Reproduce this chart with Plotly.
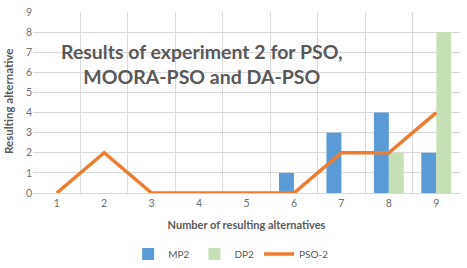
import plotly.graph_objects as go

categories = ["1", "2", "3", "4", "5", "6", "7", "8", "9"]
mp2 = [0, 0, 0, 0, 0, 1, 3, 4, 2]
dp2 = [0, 0, 0, 0, 0, 0, 0, 2, 8]
pso2 = [0, 2, 0, 0, 0, 0, 2, 2, 4]
y_ticks = [0, 1, 2, 3, 4, 5, 6, 7, 8, 9]

FONT = "Lato"
GRAY = "#595959"
TICK = "#6E6E6E"
GRID = "#D9D9D9"

fig = go.Figure()
fig.add_trace(go.Bar(x=categories, y=mp2, name="MP2", marker=dict(color="#5B9BD5", line=dict(width=0))))
fig.add_trace(go.Bar(x=categories, y=dp2, name="DP2", marker=dict(color="#C5E0B4", line=dict(width=0))))
fig.add_trace(go.Scatter(x=categories, y=pso2, name="PSO-2", mode="lines",
                         line=dict(color="#ED7D31", width=3.5)))

fig.update_layout(
    width=467, height=268,
    margin=dict(l=33, r=7, t=12, b=75),
    paper_bgcolor="white", plot_bgcolor="white",
    barmode="group", bargap=0.37, bargroupgap=0,
    font=dict(family=FONT, color=GRAY, size=10),
    showlegend=True,
    legend=dict(orientation="h", x=0.464, xanchor="center",
                yref="container", y=0.052, yanchor="middle",
                font=dict(size=10, color=GRAY), traceorder="normal",
                itemwidth=30),
    xaxis=dict(type="category", tickson="boundaries", showgrid=True,
               gridcolor=GRID, gridwidth=1, automargin=False,
               showline=True, linecolor=GRID, linewidth=1, mirror=False,
               ticks="", ticklen=0, tickfont=dict(size=10.5, color=TICK),
               title=dict(text="<b>Number of resulting alternatives</b>",
                          font=dict(size=11, color=GRAY), standoff=13)),
    yaxis=dict(range=[0, 9], tickmode="array", tickvals=y_ticks, automargin=False,
               showgrid=True, gridcolor=GRID, gridwidth=1, zeroline=False,
               ticks="", tickfont=dict(size=10.5, color=TICK)),
)

fig.add_annotation(text="<b>Resulting alternative</b>", textangle=-90,
                   xref="paper", yref="paper", x=-0.0562, y=0.503,
                   xanchor="center", yanchor="middle", showarrow=False,
                   font=dict(size=11.5, color=GRAY, family=FONT))

fig.add_annotation(text="<b>Results of experiment 2 for PSO,<br>MOORA-PSO and DA-PSO</b>",
                   xref="paper", yref="paper", x=0.396, y=0.713,
                   xanchor="center", yanchor="middle", showarrow=False,
                   font=dict(size=19.5, color=GRAY, family=FONT), align="center")

fig.write_html("out.html", config={"displayModeBar": False},
               post_script="document.body.style.margin='0';document.body.style.padding='0';")
